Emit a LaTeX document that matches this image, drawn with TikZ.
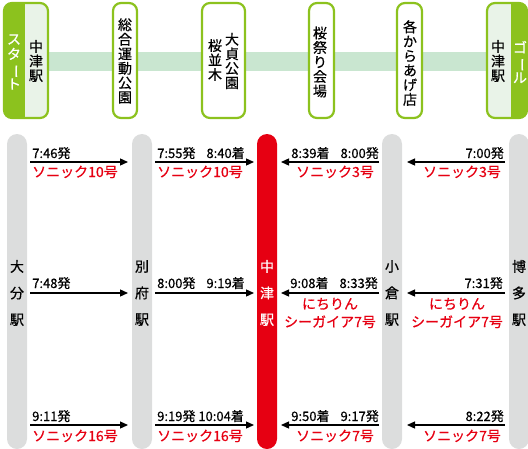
\documentclass[tikz,border=0pt]{standalone}
\usepackage{fontspec}
\setmainfont[FakeBold=0.6]{Noto Sans CJK JP}
\usepackage{xcolor}
\usepackage{graphicx}
\usepackage{tikz}
\usetikzlibrary{arrows.meta,calc}

\definecolor{lineGreen}{HTML}{8CC21E}
\definecolor{bandGreen}{HTML}{C9E6D0}
\definecolor{paleGreen}{HTML}{E9F3E8}
\definecolor{barGray}{HTML}{DCDDDD}
\definecolor{jrRed}{HTML}{E60012}

\newcommand{\chou}{\rotatebox[origin=c]{-90}{ー}}

\tikzset{
	pill/.style={draw=lineGreen, line width=2.2pt, rounded corners=8pt},
	tate/.style={align=center, inner sep=0pt, font=\fontsize{14}{14.5}\selectfont},
	barname/.style={align=center, inner sep=0pt, font=\fontsize{14}{26.5}\selectfont},
	timetext/.style={inner sep=0pt, font=\fontsize{13}{14}\selectfont},
	trainname/.style={inner sep=0pt, text=jrRed, align=center, font=\fontsize{14}{18}\selectfont},
	trainarrow/.style={line width=1.3pt, -{Triangle[length=8pt,width=7pt]}}
}

\begin{document}
\begin{tikzpicture}[x=1pt,y=-1pt]
	\useasboundingbox (0,0) rectangle (528,448);
	% route band and stops
	\fill[bandGreen] (48,52) rectangle (487,71);
	\fill[paleGreen, rounded corners=8pt] (4,3) rectangle (48,118);
	\begin{scope}
		\clip[rounded corners=8pt] (4,3) rectangle (48,118);
		\fill[lineGreen] (4,3) rectangle (25,118);
	\end{scope}
	\draw[pill] (4,3) rectangle (48,118);
	\fill[paleGreen, rounded corners=8pt] (487,3) rectangle (527,118);
	\begin{scope}
		\clip[rounded corners=8pt] (487,3) rectangle (527,118);
		\fill[lineGreen] (511,3) rectangle (527,118);
	\end{scope}
	\draw[pill] (487,3) rectangle (527,118);
	\foreach \xa/\xb in {113/137,202/245,309/334,397/422}
		\draw[pill, fill=white] (\xa,3) rectangle (\xb,118);
	\node[tate, text=white, font=\fontsize{14}{15}\selectfont] (start) at (14,62) {ス\\タ\\\chou\\ト};
	\node[tate] (nakatsuS) at (36,61) {中\\津\\駅};
	\node[tate] (sogo) at (125,61) {総\\合\\運\\動\\公\\園};
	\node[tate] (osada) at (232,61) {大\\貞\\公\\園};
	\node[tate] (namiki) at (215,60) {桜\\並\\木};
	\node[tate] (matsuri) at (320,62) {桜\\祭\\り\\会\\場};
	\node[tate] (karaage) at (410,63) {各\\か\\ら\\あ\\げ\\店};
	\node[tate] (nakatsuG) at (498,61) {中\\津\\駅};
	\node[tate, text=white, font=\fontsize{14}{15}\selectfont] (goal) at (520,62) {ゴ\\\chou\\ル};
	% station bars
	\foreach \xc in {17,142,392,519}
		\fill[barGray, rounded corners=10pt] (\xc-10,134) rectangle (\xc+10,449);
	\fill[jrRed, rounded corners=10pt] (257,134) rectangle (277,449);
	\node[barname] (oita) at (17,293) {大\\分\\駅};
	\node[barname] (beppu) at (142,293) {別\\府\\駅};
	\node[barname, text=white] (nakatsu) at (267,293) {中\\津\\駅};
	\node[barname] (kokura) at (392,293) {小\\倉\\駅};
	\node[barname] (hakata) at (519,293) {博\\多\\駅};
	% trains
	\foreach \y [count=\r] in {162,293,425} {
		\coordinate (oitaE\r) at (30,\y);
		\coordinate (beppuW\r) at (128,\y);
		\coordinate (beppuE\r) at (155,\y);
		\coordinate (nakatsuW\r) at (254,\y);
		\coordinate (nakatsuE\r) at (281,\y);
		\coordinate (kokuraW\r) at (379,\y);
		\coordinate (kokuraE\r) at (407,\y);
		\coordinate (hakataW\r) at (505,\y);
		\draw[trainarrow] (oitaE\r) -- (beppuW\r);
		\draw[trainarrow] (beppuE\r) -- (nakatsuW\r);
		\draw[trainarrow] (kokuraW\r) -- (nakatsuE\r);
		\draw[trainarrow] (hakataW\r) -- (kokuraE\r);
	}
	\node[timetext, anchor=base west] (t1a) at (32,158) {7:46発};
	\node[timetext, anchor=base west] (t1b) at (157,158) {7:55発\hspace{11pt}8:40着};
	\node[timetext, anchor=base east] (t1c) at (379,158) {8:39着\hspace{11pt}8:00発};
	\node[timetext, anchor=base east] (t1d) at (504,158) {7:00発};
	\node[trainname, anchor=base west] (n1a) at (32,177) {ソニック10号};
	\node[trainname, anchor=base west] (n1b) at (157,177) {ソニック10号};
	\node[trainname, anchor=base] (n1c) at (335,177) {ソニック3号};
	\node[trainname, anchor=base] (n1d) at (462,177) {ソニック3号};
	\node[timetext, anchor=base west] (t2a) at (32,288) {7:48発};
	\node[timetext, anchor=base west] (t2b) at (157,288) {8:00発\hspace{11pt}9:19着};
	\node[timetext, anchor=base east] (t2c) at (378,288) {9:08着\hspace{11pt}8:33発};
	\node[timetext, anchor=base east] (t2d) at (503,288) {7:31発};
	\node[trainname, anchor=base] (n2c) at (330,309) {にちりん};
	\node[trainname, anchor=base] (n2c2) at (330,327) {シーガイア7号};
	\node[trainname, anchor=base] (n2d) at (457,309) {にちりん};
	\node[trainname, anchor=base] (n2d2) at (457,327) {シーガイア7号};
	\node[timetext, anchor=base west] (t3a) at (32,421) {9:11発};
	\node[timetext, anchor=base west] (t3b) at (157,421) {9:19発 10:04着};
	\node[timetext, anchor=base east] (t3c) at (379,421) {9:50着\hspace{11pt}9:17発};
	\node[timetext, anchor=base east] (t3d) at (504,421) {8:22発};
	\node[trainname, anchor=base west] (n3a) at (32,441) {ソニック16号};
	\node[trainname, anchor=base west] (n3b) at (157,441) {ソニック16号};
	\node[trainname, anchor=base] (n3c) at (335,441) {ソニック7号};
	\node[trainname, anchor=base] (n3d) at (462,441) {ソニック7号};
\end{tikzpicture}
\end{document}
